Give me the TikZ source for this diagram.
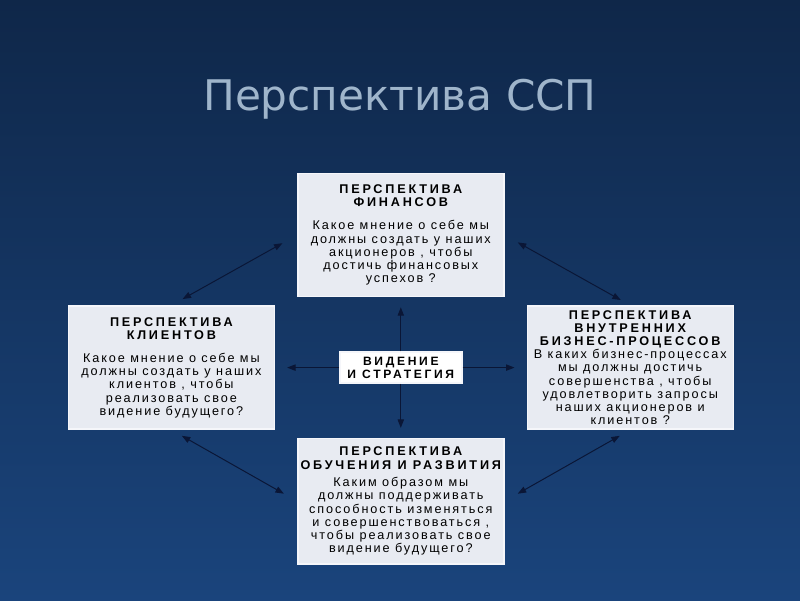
\documentclass[tikz,border=0pt]{standalone}
\usepackage{fontspec}
\usepackage{tikz}
\usetikzlibrary{arrows.meta,positioning}
\setmainfont{Liberation Sans}
\newfontfamily\titlefont{DejaVu Sans}
\newfontfamily\headfont[LetterSpace=22]{Liberation Sans Bold}
\newfontfamily\bodyfont[LetterSpace=15]{Liberation Sans}
\definecolor{slidetop}{HTML}{0F2749}
\definecolor{slidemid}{HTML}{2356A2}
\definecolor{slidebot}{HTML}{1A447C}
\definecolor{slidetitle}{HTML}{9FB5CB}
\definecolor{cardfill}{HTML}{E8EBF2}
\definecolor{cardedge}{HTML}{F5F6FA}
\definecolor{linknavy}{HTML}{0A1636}

\begin{document}
\begin{tikzpicture}[
  node distance=1.35cm and 1.6cm,
  card/.style={
    draw=cardedge, fill=cardfill, line width=1pt,
    align=center, inner sep=2pt, minimum width=5.15cm, minimum height=3.08cm,
    font=\bodyfont\fontsize{9}{9.4}\selectfont
  },
  corecard/.style={
    draw=cardedge, fill=white, line width=1pt,
    align=center, inner sep=2pt, minimum width=3.05cm, minimum height=0.78cm,
    font=\headfont\fontsize{8.6}{9.4}\selectfont
  },
  link/.style={{Triangle[length=6pt,width=4.5pt]}-{Triangle[length=6pt,width=4.5pt]}, line width=0.7pt, draw=linknavy},
  ray/.style={-{Triangle[length=6pt,width=4.5pt]}, line width=0.7pt, draw=linknavy}
]
  % Slide background
  \shade[top color=slidetop, middle color=slidemid, bottom color=slidebot] (0,0) rectangle (20,15);
  \useasboundingbox (0,0) rectangle (20,15);

  % Title
  \node[font=\titlefont\fontsize{30}{34}\selectfont, text=slidetitle] (title) at (10,12.52) {Перспектива ССП};

  % Centre: vision and strategy
  \node[corecard] (vision) at (10.02,5.81) {ВИДЕНИЕ\\И СТРАТЕГИЯ};

  % Four perspectives
  \node[card, above=of vision] (finance) {
    \headfont ПЕРСПЕКТИВА\\\headfont ФИНАНСОВ\\[7pt]
    Какое мнение о себе мы\\должны создать у наших\\акционеров , чтобы\\достичь финансовых\\успехов ?
  };

  \node[card, left=of vision] (clients) {
    \headfont ПЕРСПЕКТИВА\\\headfont КЛИЕНТОВ\\[7pt]
    Какое мнение о себе мы\\должны создать у наших\\клиентов , чтобы\\реализовать свое\\видение будущего?
  };

  \node[card, right=of vision] (process) {
    \headfont ПЕРСПЕКТИВА\\\headfont ВНУТРЕННИХ\\\headfont БИЗНЕС-ПРОЦЕССОВ\\
    В каких бизнес-процессах\\мы должны достичь\\совершенства , чтобы\\удовлетворить запросы\\наших акционеров и\\клиентов ?
  };

  \node[card, below=of vision, minimum height=3.13cm] (learning) {
    \headfont ПЕРСПЕКТИВА\\\headfont ОБУЧЕНИЯ И РАЗВИТИЯ\\[3pt]
    Каким образом мы\\должны поддерживать\\способность изменяться\\и совершенствоваться ,\\чтобы реализовать свое\\видение будущего?
  };

  % Rays from the centre
  \draw[ray, shorten >=0.25cm] (vision) -- (finance);
  \draw[ray, shorten >=0.25cm] (vision) -- (learning);
  \draw[ray, shorten >=0.3cm] (vision) -- (clients);
  \draw[ray, shorten >=0.3cm] (vision) -- (process);

  % Links between neighbouring perspectives
  \draw[link, shorten <=0.32cm, shorten >=0.42cm] (clients.north) -- (finance.west);
  \draw[link, shorten <=0.38cm, shorten >=0.27cm] (finance.east) -- (process.north);
  \draw[link, shorten <=0.3cm, shorten >=0.38cm] (clients.south) -- (learning.west);
  \draw[link, shorten <=0.3cm, shorten >=0.38cm] (process.south) -- (learning.east);
\end{tikzpicture}
\end{document}
